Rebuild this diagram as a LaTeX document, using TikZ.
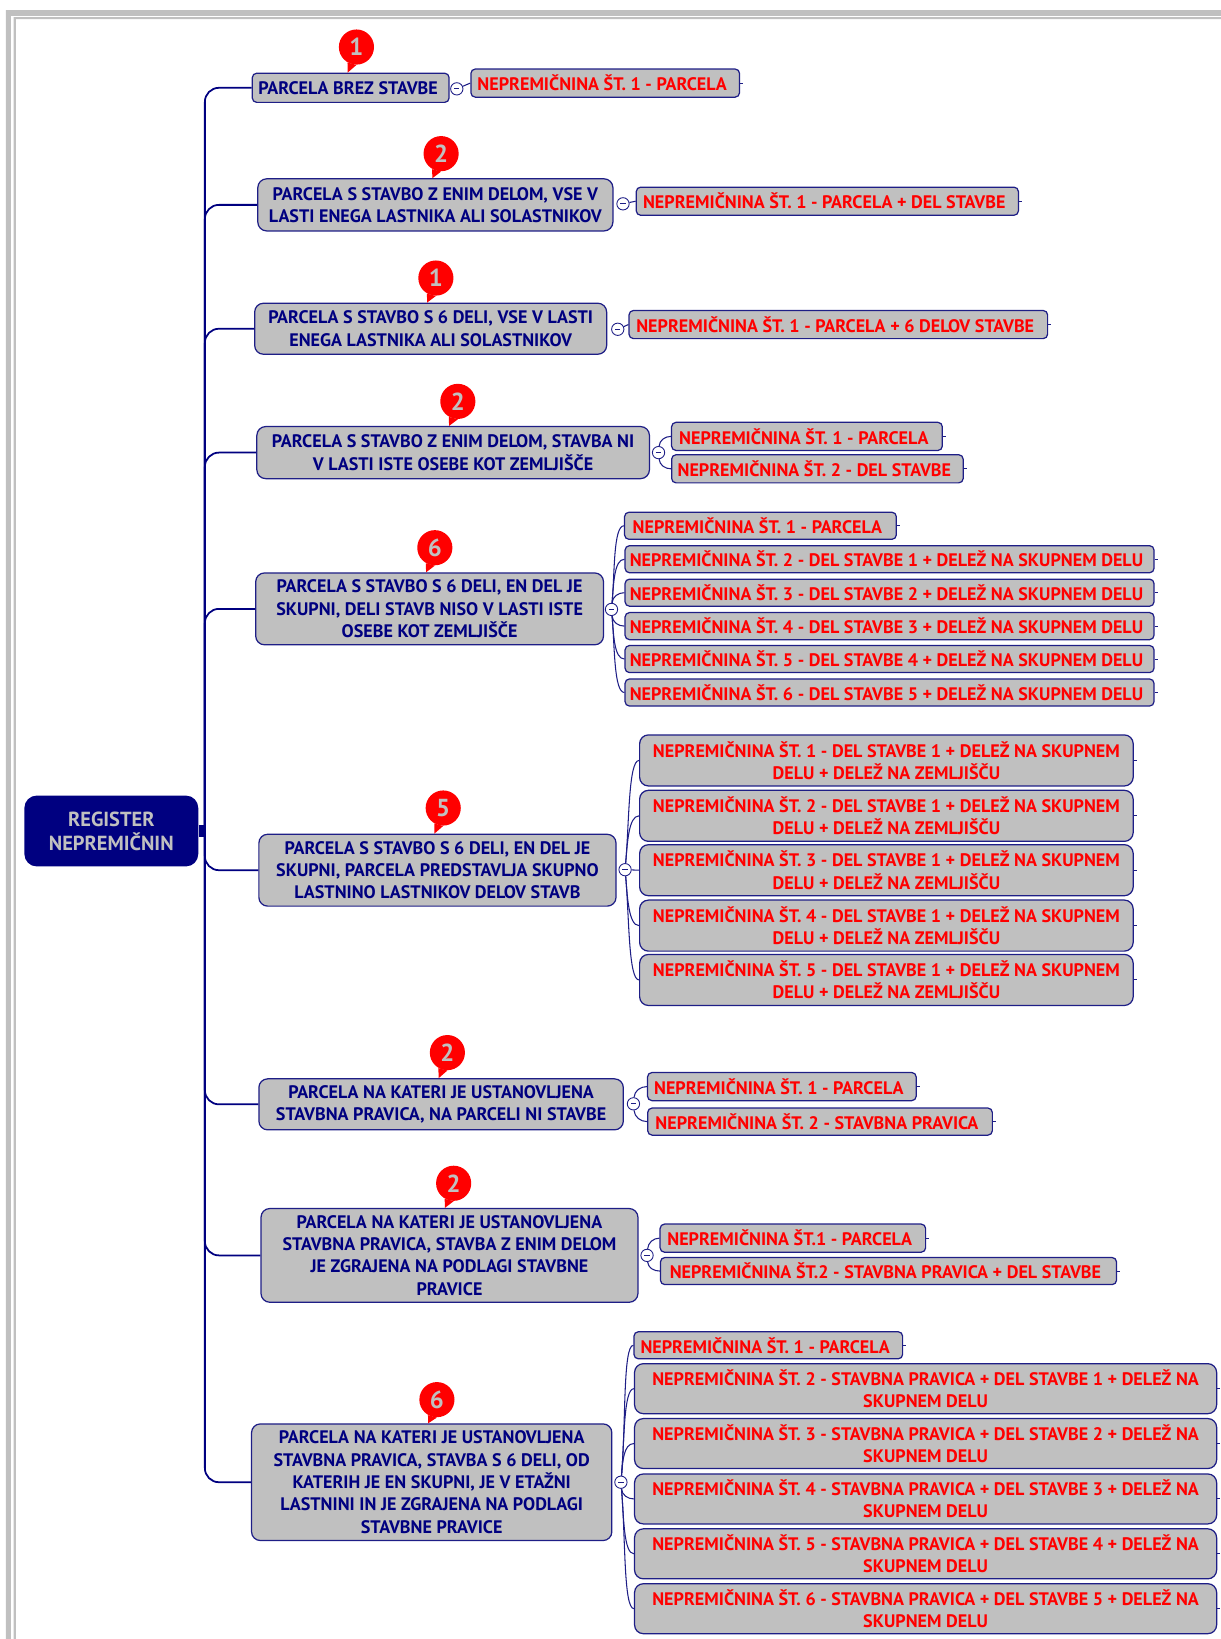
\documentclass[tikz,border=0pt]{standalone}
\usepackage{fontspec}
\setmainfont{PT Sans}
\definecolor{navy}{HTML}{000080}
\definecolor{rim}{HTML}{1E1E86}
\definecolor{panel}{HTML}{C0C0C0}
\tikzset{
  x=.0209cm,y=-.0209cm,
  wh/.style 2 args={minimum width=#1*.5925pt,minimum height=#2*.5925pt},
  cell/.style={draw=rim,fill=panel,line width=.7pt,inner sep=0pt,align=center,font=\bfseries\fontsize{10.3}{12.7}\selectfont},
  parcel/.style={cell,text=navy,rounded corners=5pt},
  small/.style={rounded corners=2.5pt,execute at end node={\kern3pt}},
  unit/.style={cell,text=red,rounded corners=2.5pt,
    append after command={(\tikzlastnode.east) edge[twig] +(3,0)}},
  lean/.style={execute at end node={\kern3.5pt}},
  two/.style={rounded corners=5pt},
  root/.style={fill=navy,text=panel,rounded corners=7pt,inner sep=0pt,align=center,font=\bfseries\fontsize{11.6}{13.6}\selectfont},
  branch/.style={draw=navy,line width=1pt,rounded corners=8pt},
  twig/.style={draw=rim,line width=.6pt},
  twigup/.style={out=85,in=180,in max distance=6pt},
  twigdown/.style={out=-85,in=180,in max distance=6pt},
  badge/.style={circle,fill=red,text=panel,minimum size=20pt,inner sep=0pt,font=\bfseries\fontsize{14}{14}\selectfont},
  tail/.style={fill=red},
  toggle/.style={circle,draw=rim,fill=white,line width=.5pt,minimum size=7pt,inner sep=0pt,
    path picture={\draw[rim,line width=.5pt] ([xshift=-1.5pt]path picture bounding box.center) -- ([xshift=1.5pt]path picture bounding box.center);}},
}
\begin{document}
\begin{tikzpicture}
\useasboundingbox (0,0) rectangle (1168,1568);
% frame
\fill[panel] (1168,9.6) -- (5.7,9.6) -- (5.7,1568) -- (10.5,1568) -- (10.5,15.3) -- (1168,15.3) -- cycle;
\fill[panel] (1168,16.3) -- (13,16.3) -- (13,1568) -- (15.3,1568) -- (15.3,18.2) -- (1168,18.2) -- cycle;
% root and first level
\node[root,wh={167}{68}] (root) at (106.5,795) {REGISTER\\NEPREMIČNIN};
\coordinate (spine) at (196,795);
\node[parcel,small,wh={189}{28}] (a1) at (335.5,84) {PARCELA BREZ STAVBE};
\node[parcel,wh={341}{50}] (a2) at (416.5,196) {PARCELA S STAVBO Z ENIM DELOM, VSE V\\LASTI ENEGA LASTNIKA ALI SOLASTNIKOV};
\node[parcel,wh={338}{49}] (a3) at (412,314.5) {PARCELA S STAVBO S 6 DELI, VSE V LASTI\\ENEGA LASTNIKA ALI SOLASTNIKOV};
\node[parcel,wh={377}{50}] (a4) at (433.5,433) {PARCELA S STAVBO Z ENIM DELOM, STAVBA NI\\V LASTI ISTE OSEBE KOT ZEMLJIŠČE};
\node[parcel,wh={334}{69}] (a5) at (411,582.5) {PARCELA S STAVBO S 6 DELI, EN DEL JE\\SKUPNI, DELI STAVB NISO V LASTI ISTE\\OSEBE KOT ZEMLJIŠČE};
\node[parcel,wh={343}{69}] (a6) at (418.5,832.5) {PARCELA S STAVBO S 6 DELI, EN DEL JE\\SKUPNI, PARCELA PREDSTAVLJA SKUPNO\\LASTNINO LASTNIKOV DELOV STAVB};
\node[parcel,wh={350}{49}] (a7) at (422,1056.5) {PARCELA NA KATERI JE USTANOVLJENA\\STAVBNA PRAVICA, NA PARCELI NI STAVBE};
\node[parcel,wh={362}{90}] (a8) at (430,1201) {PARCELA NA KATERI JE USTANOVLJENA\\STAVBNA PRAVICA, STAVBA Z ENIM DELOM\\JE ZGRAJENA NA PODLAGI STAVBNE\\PRAVICE};
\node[parcel,wh={346}{112}] (a9) at (413,1418) {PARCELA NA KATERI JE USTANOVLJENA\\STAVBNA PRAVICA, STAVBA S 6 DELI, OD\\KATERIH JE EN SKUPNI, JE V ETAŽNI\\LASTNINI IN JE ZGRAJENA NA PODLAGI\\STAVBNE PRAVICE};
\draw[navy,line width=7pt] (root.east) -- (spine);
\draw[branch] (spine) |- (a1.west);
\draw[branch] (spine) |- (a2.west);
\draw[branch] (spine) |- (a3.west);
\draw[branch] (spine) |- (a4.west);
\draw[branch] (spine) |- (a5.west);
\draw[branch] (spine) |- (a6.west);
\draw[branch] (spine) |- (a7.west);
\draw[branch] (spine) |- (a8.west);
\draw[branch] (spine) |- (a9.west);
% counters
\node[badge] (b1) at (341,45) {1};
\node[badge] (b2) at (422,147) {2};
\node[badge] (b3) at (417,266) {1};
\node[badge] (b4) at (438,384) {2};
\node[badge] (b5) at (416,524) {6};
\node[badge] (b6) at (424,773) {5};
\node[badge] (b7) at (428,1007) {2};
\node[badge] (b8) at (434,1132) {2};
\node[badge] (b9) at (418,1339) {6};
\fill[tail] (b1.240) -- ([xshift=-5pt]b1.south |- a1.north) -- (b1.270) -- cycle;
\fill[tail] (b2.240) -- ([xshift=-5pt]b2.south |- a2.north) -- (b2.270) -- cycle;
\fill[tail] (b3.240) -- ([xshift=-5pt]b3.south |- a3.north) -- (b3.270) -- cycle;
\fill[tail] (b4.240) -- ([xshift=-5pt]b4.south |- a4.north) -- (b4.270) -- cycle;
\fill[tail] (b5.240) -- ([xshift=-5pt]b5.south |- a5.north) -- (b5.270) -- cycle;
\fill[tail] (b6.240) -- ([xshift=-5pt]b6.south |- a6.north) -- (b6.270) -- cycle;
\fill[tail] (b7.240) -- ([xshift=-5pt]b7.south |- a7.north) -- (b7.270) -- cycle;
\fill[tail] (b8.240) -- ([xshift=-5pt]b8.south |- a8.north) -- (b8.270) -- cycle;
\fill[tail] (b9.240) -- ([xshift=-5pt]b9.south |- a9.north) -- (b9.270) -- cycle;
% second level
\node[unit,lean,wh={258}{27}] (c11) at (579,79.5) {NEPREMIČNINA ŠT. 1 - PARCELA};
\node[unit,lean,wh={367}{27}] (c21) at (791.5,192.5) {NEPREMIČNINA ŠT. 1 - PARCELA + DEL STAVBE};
\node[unit,lean,wh={402}{27}] (c31) at (802,310.5) {NEPREMIČNINA ŠT. 1 - PARCELA + 6 DELOV STAVBE};
\node[unit,lean,wh={260}{27}] (c41) at (772,417.5) {NEPREMIČNINA ŠT. 1 - PARCELA};
\node[unit,lean,wh={280}{27}] (c42) at (782,448.5) {NEPREMIČNINA ŠT. 2 - DEL STAVBE};
\node[unit,lean,wh={261}{26}] (c51) at (727.5,503) {NEPREMIČNINA ŠT. 1 - PARCELA};
\node[unit,lean,wh={508}{26}] (c52) at (851,535) {NEPREMIČNINA ŠT. 2 - DEL STAVBE 1 + DELEŽ NA SKUPNEM DELU};
\node[unit,lean,wh={508}{26}] (c53) at (851,567) {NEPREMIČNINA ŠT. 3 - DEL STAVBE 2 + DELEŽ NA SKUPNEM DELU};
\node[unit,lean,wh={508}{26}] (c54) at (851,599) {NEPREMIČNINA ŠT. 4 - DEL STAVBE 3 + DELEŽ NA SKUPNEM DELU};
\node[unit,lean,wh={508}{26}] (c55) at (851,630.5) {NEPREMIČNINA ŠT. 5 - DEL STAVBE 4 + DELEŽ NA SKUPNEM DELU};
\node[unit,lean,wh={508}{26}] (c56) at (851,662.5) {NEPREMIČNINA ŠT. 6 - DEL STAVBE 5 + DELEŽ NA SKUPNEM DELU};
\node[unit,two,wh={474}{49}] (c61) at (848,727.5) {NEPREMIČNINA ŠT. 1 - DEL STAVBE 1 + DELEŽ NA SKUPNEM\\DELU + DELEŽ NA ZEMLJIŠČU};
\node[unit,two,wh={474}{49}] (c62) at (848,780.5) {NEPREMIČNINA ŠT. 2 - DEL STAVBE 1 + DELEŽ NA SKUPNEM\\DELU + DELEŽ NA ZEMLJIŠČU};
\node[unit,two,wh={474}{49}] (c63) at (848,832.5) {NEPREMIČNINA ŠT. 3 - DEL STAVBE 1 + DELEŽ NA SKUPNEM\\DELU + DELEŽ NA ZEMLJIŠČU};
\node[unit,two,wh={474}{49}] (c64) at (848,885.5) {NEPREMIČNINA ŠT. 4 - DEL STAVBE 1 + DELEŽ NA SKUPNEM\\DELU + DELEŽ NA ZEMLJIŠČU};
\node[unit,two,wh={474}{49}] (c65) at (848,937.5) {NEPREMIČNINA ŠT. 5 - DEL STAVBE 1 + DELEŽ NA SKUPNEM\\DELU + DELEŽ NA ZEMLJIŠČU};
\node[unit,lean,wh={258}{27}] (c71) at (748,1039.5) {NEPREMIČNINA ŠT. 1 - PARCELA};
\node[unit,lean,wh={331}{26}] (c72) at (784.5,1073) {NEPREMIČNINA ŠT. 2 - STAVBNA PRAVICA};
\node[unit,lean,wh={255}{27}] (c81) at (758.5,1184.5) {NEPREMIČNINA ŠT.1 - PARCELA};
\node[unit,lean,wh={438}{26}] (c82) at (850,1216) {NEPREMIČNINA ŠT.2 - STAVBNA PRAVICA + DEL STAVBE};
\node[unit,lean,wh={258}{26}] (c91) at (735,1287) {NEPREMIČNINA ŠT. 1 - PARCELA};
\node[unit,two,wh={559}{48}] (c92) at (885.5,1328.5) {NEPREMIČNINA ŠT. 2 - STAVBNA PRAVICA + DEL STAVBE 1 + DELEŽ NA\\SKUPNEM DELU};
\node[unit,two,wh={559}{48}] (c93) at (885.5,1381) {NEPREMIČNINA ŠT. 3 - STAVBNA PRAVICA + DEL STAVBE 2 + DELEŽ NA\\SKUPNEM DELU};
\node[unit,two,wh={559}{48}] (c94) at (885.5,1434) {NEPREMIČNINA ŠT. 4 - STAVBNA PRAVICA + DEL STAVBE 3 + DELEŽ NA\\SKUPNEM DELU};
\node[unit,two,wh={559}{48}] (c95) at (885.5,1486.5) {NEPREMIČNINA ŠT. 5 - STAVBNA PRAVICA + DEL STAVBE 4 + DELEŽ NA\\SKUPNEM DELU};
\node[unit,two,wh={559}{48}] (c96) at (885.5,1539) {NEPREMIČNINA ŠT. 6 - STAVBNA PRAVICA + DEL STAVBE 5 + DELEŽ NA\\SKUPNEM DELU};
% toggles
\node[toggle] (t1) at (437,85) {};
\node[toggle] (t2) at (596,195) {};
\node[toggle] (t3) at (591,315) {};
\node[toggle] (t4) at (630,433) {};
\node[toggle] (t5) at (585,583) {};
\node[toggle] (t6) at (598,832) {};
\node[toggle] (t7) at (606,1056) {};
\node[toggle] (t8) at (619,1201) {};
\node[toggle] (t9) at (594,1418) {};
% connectors
\draw[twig] (t1) -- (c11.west);
\draw[twig] (t2) -- (c21.west);
\draw[twig] (t3) -- (c31.west);
\draw[twig] (t4) to[twigup] (c41.west);
\draw[twig] (t4) to[twigdown] (c42.west);
\draw[twig] (t5) to[twigup] (c51.west);
\draw[twig] (t5) to[twigup] (c52.west);
\draw[twig] (t5) to[twigup] (c53.west);
\draw[twig] (t5) to[twigdown] (c54.west);
\draw[twig] (t5) to[twigdown] (c55.west);
\draw[twig] (t5) to[twigdown] (c56.west);
\draw[twig] (t6) to[twigup] (c61.west);
\draw[twig] (t6) to[twigup] (c62.west);
\draw[twig] (t6) -- (c63.west);
\draw[twig] (t6) to[twigdown] (c64.west);
\draw[twig] (t6) to[twigdown] (c65.west);
\draw[twig] (t7) to[twigup] (c71.west);
\draw[twig] (t7) to[twigdown] (c72.west);
\draw[twig] (t8) to[twigup] (c81.west);
\draw[twig] (t8) to[twigdown] (c82.west);
\draw[twig] (t9) to[twigup] (c91.west);
\draw[twig] (t9) to[twigup] (c92.west);
\draw[twig] (t9) to[twigup] (c93.west);
\draw[twig] (t9) to[twigdown] (c94.west);
\draw[twig] (t9) to[twigdown] (c95.west);
\draw[twig] (t9) to[twigdown] (c96.west);
\end{tikzpicture}
\end{document}
